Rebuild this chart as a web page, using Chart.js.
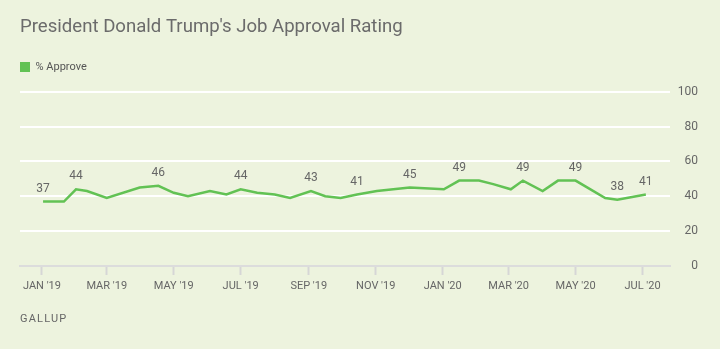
<!DOCTYPE html>
<html>
<head>
<meta charset="utf-8">
<script src="https://cdn.jsdelivr.net/npm/chart.js@4.4.1/dist/chart.umd.min.js"></script>
<style>
  html, body { margin: 0; padding: 0; background: #edf3de; }
  #wrap { width: 720px; height: 349px; }
</style>
</head>
<body>
<div id="wrap"><canvas id="chart" width="720" height="349"></canvas></div>
<script>
// Poll start dates, in days counted from Jan 1 2019
const pollDays = [1, 20, 31, 41, 59, 89, 106, 120, 133, 153, 168, 181, 196, 212, 226, 245, 258,
  272, 287, 305, 335, 366, 380, 398, 411, 427, 438, 456, 470, 486, 513, 524, 550];
const approve = [37, 37, 44, 43, 39, 45, 46, 42, 40, 43, 41, 44, 42, 41, 39, 43, 40,
  39, 41, 43, 45, 44, 49, 49, 47, 44, 49, 43, 49, 49, 39, 38, 41];
// Points that get a value printed above them
const labelIdx = [0, 2, 6, 11, 15, 18, 20, 22, 26, 29, 31, 32];

const tickDays = [0, 59, 120, 181, 243, 304, 365, 425, 486, 547];
const tickLabels = ["JAN '19", "MAR '19", "MAY '19", "JUL '19", "SEP '19", "NOV '19",
  "JAN '20", "MAR '20", "MAY '20", "JUL '20"];
const yTicks = [0, 20, 40, 60, 80, 100];

const GREEN = '#62c254';
const TEXT = '#666666';

Chart.defaults.font.family = 'Roboto, "Open Sans", sans-serif';

const valueLabels = {
  id: 'valueLabels',
  afterDatasetsDraw(chart) {
    const meta = chart.getDatasetMeta(0);
    const c = chart.ctx;
    c.save();
    c.font = '12px Roboto, sans-serif';
    c.fillStyle = TEXT;
    c.textAlign = 'center';
    c.textBaseline = 'middle';
    labelIdx.forEach(i => {
      const pt = meta.data[i];
      c.fillText(String(approve[i]), pt.x, pt.y - 13);
    });
    c.restore();
  }
};

const sourceNote = {
  id: 'sourceNote',
  afterDraw(chart) {
    const c = chart.ctx;
    c.save();
    c.font = '11px Roboto, sans-serif';
    c.letterSpacing = '1.2px';
    c.fillStyle = TEXT;
    c.textBaseline = 'middle';
    c.fillText('GALLUP', 20, 319);
    c.restore();
  }
};

new Chart(document.getElementById('chart'), {
  type: 'line',
  data: {
    datasets: [{
      label: '% Approve',
      data: pollDays.map((d, i) => ({ x: d, y: approve[i] })),
      borderColor: GREEN,
      backgroundColor: GREEN,
      borderWidth: 2.5,
      pointRadius: 0,
      tension: 0,
      fill: false
    }]
  },
  options: {
    responsive: false,
    animation: false,
    layout: { padding: { left: 20, right: 22, top: 0, bottom: 55 } },
    plugins: {
      title: {
        display: true,
        text: "President Donald Trump's Job Approval Rating",
        align: 'start',
        color: '#6b6b6b',
        font: { size: 18.6, weight: '400' },
        padding: { top: 16.5, bottom: 22.7 }
      },
      legend: {
        display: true,
        align: 'start',
        weight: 1600,
        labels: {
          boxWidth: 10,
          boxHeight: 10,
          padding: 0,
          color: '#555',
          font: { size: 11 },
          generateLabels(chart) {
            return Chart.defaults.plugins.legend.labels.generateLabels(chart)
              .map(l => ({ ...l, lineWidth: 0 }));
          }
        }
      },
      // empty spacer between legend and plot
      subtitle: {
        display: true,
        text: '',
        font: { size: 5, lineHeight: 1 },
        padding: { top: 4.2, bottom: 0 }
      },
      tooltip: { enabled: false }
    },
    scales: {
      x: {
        type: 'linear',
        min: -20,
        max: 572,
        afterBuildTicks(scale) {
          scale.ticks = tickDays.map(v => ({ value: v }));
        },
        afterFit(scale) { scale.height = 28; },
        grid: {
          drawOnChartArea: false,
          drawTicks: true,
          tickLength: 9,
          tickColor: '#d6d6d6',
          tickWidth: 2
        },
        border: { display: true, color: '#dcdcdc', width: 2 },
        ticks: {
          autoSkip: false,
          maxRotation: 0,
          padding: 5,
          color: TEXT,
          font: { size: 11 },
          callback: (v) => tickLabels[tickDays.indexOf(v)]
        }
      },
      y: {
        position: 'right',
        min: 0,
        max: 100,
        afterBuildTicks(scale) {
          scale.ticks = yTicks.map(v => ({ value: v }));
        },
        afterFit(scale) { scale.width = 28; },
        grid: {
          color: (ctx) => ctx.tick.value === 0 ? '#dcdcdc' : '#ffffff',
          lineWidth: 2,
          drawTicks: false
        },
        border: { display: false },
        ticks: {
          crossAlign: 'far',
          padding: 8,
          color: TEXT,
          font: { size: 12 }
        }
      }
    }
  },
  plugins: [valueLabels, sourceNote]
});
</script>
</body>
</html>
